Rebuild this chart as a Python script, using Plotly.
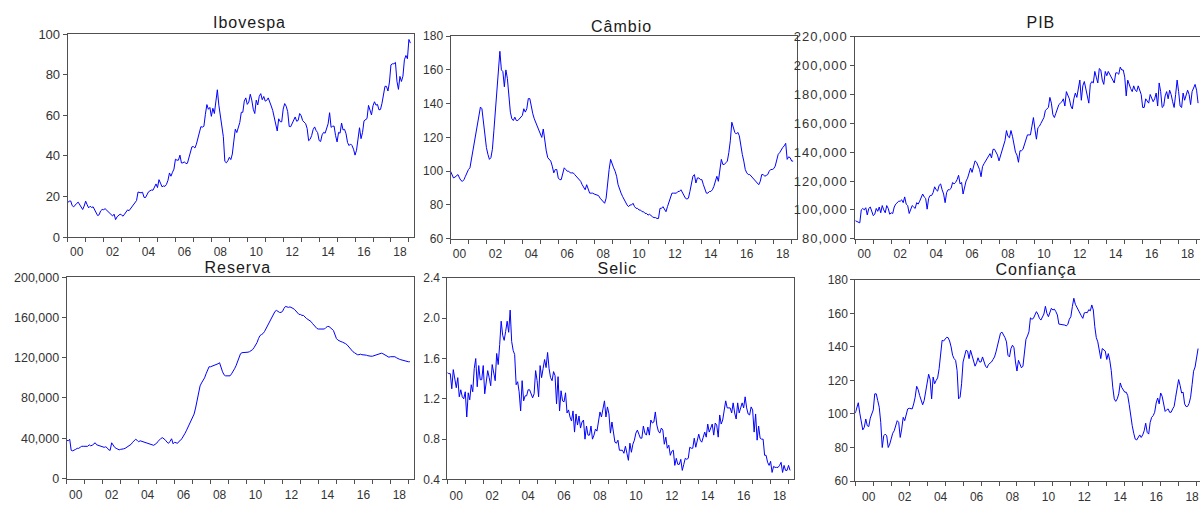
import plotly.graph_objects as go
import pandas as pd

# ---------------- data (monthly, 2000M01 - 2019M02) ----------------
months = pd.period_range("2000-01", "2019-02", freq="M")

ibovespa = [
    17.0, 17.7, 17.8, 15.5, 14.9, 16.0, 16.6, 17.2, 16.0, 14.8, 13.6, 15.3,
    17.7, 15.9, 14.4, 15.2, 14.6, 14.9, 13.5, 12.5, 10.6, 11.0, 12.9, 13.6,
    13.5, 14.0, 13.3, 13.0, 12.2, 11.1, 10.4, 11.3, 8.6, 10.0, 10.5, 11.3,
    10.9, 10.3, 11.3, 12.6, 13.4, 13.0, 14.0, 15.4, 16.0, 17.0, 18.0, 22.2,
    21.9, 21.8, 22.1, 19.6, 19.5, 21.1, 22.3, 22.8, 23.2, 23.1, 25.1, 26.2,
    24.4, 28.3, 26.6, 24.8, 25.2, 25.0, 26.0, 28.0, 31.6, 30.0, 31.9, 33.5,
    38.4, 37.9, 37.9, 40.4, 36.5, 36.6, 37.1, 36.2, 36.4, 39.3, 42.1, 44.5,
    44.6, 43.9, 45.8, 48.9, 52.3, 54.4, 54.2, 54.6, 60.5, 65.3, 63.0, 63.9,
    59.5, 63.5, 60.9, 67.9, 72.6, 65.0, 59.5, 55.7, 49.5, 37.3, 36.6, 37.6,
    39.3, 38.2, 40.9, 47.3, 53.2, 51.5, 54.8, 56.5, 61.5, 61.5, 67.0, 68.6,
    65.4, 66.5, 70.4, 67.5, 63.0, 60.9, 67.5, 65.1, 69.4, 70.7, 67.7, 69.3,
    67.0, 67.4, 68.6, 66.1, 64.6, 62.4, 58.8, 56.5, 52.3, 58.3, 56.9, 56.8,
    63.1, 65.8, 64.5, 61.8, 54.5, 54.4, 56.1, 57.1, 59.2, 57.1, 57.5, 60.9,
    59.8, 57.4, 56.4, 55.9, 53.5, 47.5, 48.2, 50.0, 53.0, 54.3, 52.5, 51.5,
    47.6, 47.1, 50.4, 51.6, 51.2, 53.2, 55.8, 61.3, 54.1, 54.6, 54.7, 50.0,
    46.9, 51.6, 51.2, 56.2, 52.8, 53.1, 50.9, 46.6, 45.1, 45.9, 45.1, 43.3,
    40.4, 42.8, 50.1, 53.9, 48.5, 51.5, 57.3, 57.9, 58.4, 64.9, 61.9, 60.2,
    64.7, 66.7, 65.0, 65.4, 62.7, 62.9, 65.9, 70.8, 74.3, 74.3, 72.0, 76.4,
    84.9, 85.4, 85.4, 86.1, 76.8, 72.8, 79.2, 76.7, 79.3, 87.4, 89.5, 87.9,
    97.4, 95.6,
]

cambio = [
    100, 98, 96, 96.5, 97.5, 98, 96, 94.5, 94, 95, 97, 99.5,
    101, 102, 107, 112, 118, 122, 126, 132, 138, 137, 128, 121,
    114, 110, 107, 108, 113, 124, 136, 146, 160, 171, 160, 159,
    150, 160, 155, 142, 135, 131, 130, 132, 130, 130, 131, 132,
    133, 137, 135, 137, 143, 143, 138, 134, 131, 129, 127, 125,
    122, 120, 125, 117, 112, 108, 107, 106, 103, 99, 101, 101,
    96, 95, 95, 98, 102, 101, 100, 100, 99, 99, 99, 98,
    97, 96, 95, 94, 92, 90, 89, 92, 90, 87, 87, 87,
    86.5, 86, 86, 85.5, 84, 83, 81.5, 81, 84, 95, 101, 107,
    104, 102, 100, 97, 92, 89, 87, 85, 83, 81, 80, 79,
    80, 80, 81, 79, 78, 78, 77, 77, 76, 76, 75, 75,
    74, 74.5, 73.5, 73, 72.5, 72.5, 72, 72, 78, 78, 79, 77,
    76, 79, 82, 85, 87, 87, 87, 87, 88, 88, 89, 87,
    85, 84, 83.5, 84, 88, 92, 97, 98, 93, 96, 96, 95,
    95, 92, 89, 87, 87, 88, 88, 89, 91, 94, 97, 94,
    100, 107, 104, 104, 105, 106, 111, 118, 129, 126, 123, 122,
    123, 121, 114, 110, 106, 101, 99, 98, 98, 97, 96, 95,
    94, 92.5, 92, 94, 98, 98, 97, 97.5, 98, 100, 101, 101,
    101.5, 103, 107, 110, 111, 113, 114, 115, 116.5, 107, 108.5, 108,
    106, 106,
]

pib_mil = [
    92.5, 92, 92, 91, 100, 101, 100, 101.5, 96.5, 101, 102, 99,
    96, 97, 101, 99, 102, 98, 103, 100, 98, 103, 101, 97,
    98, 97.5, 102, 104, 105, 106, 106, 107, 105, 109, 104, 103,
    97.5, 100, 103, 102, 101, 105, 104, 106, 108, 111, 109, 108,
    100.5, 108, 110, 110, 112, 116, 114, 113, 117, 118, 114, 111,
    105, 112, 114, 114, 115, 119, 118, 119, 121, 124, 118, 119,
    111, 117, 120, 122, 126, 129, 126, 131, 134, 133, 131, 128,
    123, 130, 132, 134, 136, 138, 139, 136, 142, 142, 140, 138,
    134, 138, 141, 144, 148, 155, 151, 150, 155, 151, 145, 140,
    138, 133, 141, 141, 142, 146, 149, 152, 152, 152, 158, 164,
    156, 149, 157, 158, 160, 162, 164, 169, 170, 171, 178, 174,
    166, 164, 167, 171, 173, 174, 175, 177, 172, 182, 180, 177,
    172, 170, 177, 181, 178, 184, 190, 176, 186, 189, 184, 180,
    174, 187, 189, 188, 196, 192, 188, 198, 197, 190, 187, 196,
    193, 196, 194, 192, 190, 188, 195, 195, 194, 199, 197, 197,
    192, 179, 190, 186, 184, 182, 186, 183, 182, 186, 183, 180,
    171, 171, 177, 175, 174, 180, 178, 175, 177, 181, 172, 188,
    182, 171, 172, 179, 182, 177, 183, 180, 175, 171, 180, 190,
    182, 172, 171, 181, 176, 180, 183, 180, 173, 182, 184, 187,
    183, 174,
]

reserva_mil = [
    38, 37.5, 39, 28, 27.5, 28, 29, 30, 30, 31, 32, 32,
    32, 32.5, 32, 33.5, 32.5, 33, 34, 35.5, 33.5, 33, 32, 31.5,
    31, 31, 31.5, 30.5, 28.5, 28, 35.5, 33, 31, 30, 29.5, 28.5,
    29, 29, 29.5, 30, 31, 32, 33, 34, 36, 37.5, 39, 38,
    36.5, 37.5, 37, 36, 35.5, 35, 34.5, 34, 33.5, 33, 33, 34,
    35, 37, 39, 40, 40.5, 39.5, 38, 36, 35, 37, 39.5, 34.5,
    36, 35.5, 35, 37, 38, 40, 42, 45, 48, 51, 54, 57,
    60, 64, 70, 78, 86, 92, 95, 97.5, 100, 104, 108, 111,
    111, 111.5, 112, 113, 113, 114, 115, 110, 106, 103, 102, 102,
    102, 102, 104, 106, 109, 112, 116, 120, 124, 125, 125, 125,
    125, 125.5, 126, 127, 128, 130, 132, 135, 139, 142, 143, 144,
    146, 149, 152, 155, 158, 161, 164, 166, 167, 166, 165, 165,
    166, 169, 171, 170.5, 170, 170.5, 170, 169, 168, 166, 164, 163,
    163, 162, 162, 160, 159, 158, 157, 156, 154, 152, 150, 149,
    148.5, 148.5, 148, 148, 148.5, 150, 151, 151, 150, 148.5, 147, 143,
    139, 137.5, 136.5, 136, 135.5, 135, 134, 133, 131, 129, 127, 126,
    125, 123.5, 123, 123, 123.5, 123, 123, 123, 122.5, 122, 121.5, 121.5,
    121.5, 122, 122.5, 123, 123.5, 124, 124.5, 124, 123, 122.5, 121, 120.5,
    121, 121, 121.5, 121, 120, 119, 118.5, 118, 117.5, 117, 116.5, 116,
    116, 116,
]

selic = [
    1.46, 1.45, 1.45, 1.30, 1.49, 1.39, 1.31, 1.41, 1.22, 1.29, 1.22, 1.20,
    1.27, 1.02, 1.26, 1.19, 1.34, 1.27, 1.50, 1.60, 1.32, 1.53, 1.39, 1.39,
    1.53, 1.25, 1.37, 1.48, 1.41, 1.33, 1.54, 1.44, 1.38, 1.65, 1.54, 1.74,
    1.97, 1.83, 1.78, 1.87, 1.97, 1.86, 2.08, 1.77, 1.68, 1.64, 1.34, 1.37,
    1.27, 1.08, 1.38, 1.18, 1.23, 1.23, 1.29, 1.29, 1.25, 1.21, 1.25, 1.48,
    1.38, 1.22, 1.53, 1.41, 1.50, 1.59, 1.51, 1.66, 1.50, 1.41, 1.38, 1.47,
    1.43, 1.15, 1.42, 1.08, 1.28, 1.18, 1.17, 1.26, 1.06, 1.09, 1.02, 0.98,
    1.08, 0.87, 1.05, 0.94, 1.03, 0.91, 0.97, 0.99, 0.80, 0.93, 0.84, 0.84,
    0.93, 0.80, 0.84, 0.90, 0.88, 0.96, 1.07, 1.02, 1.10, 1.18, 1.02, 1.12,
    1.05, 0.86, 0.97, 0.84, 0.77, 0.76, 0.79, 0.69, 0.69, 0.69, 0.66, 0.73,
    0.66, 0.59, 0.76, 0.67, 0.75, 0.79, 0.86, 0.89, 0.85, 0.81, 0.81, 0.93,
    0.86, 0.84, 0.92, 0.84, 0.99, 0.96, 0.97, 1.07, 0.94, 0.88, 0.86, 0.91,
    0.89, 0.75, 0.82, 0.71, 0.74, 0.64, 0.68, 0.69, 0.54, 0.61, 0.55, 0.55,
    0.60, 0.49, 0.55, 0.61, 0.60, 0.61, 0.72, 0.71, 0.71, 0.81, 0.72, 0.79,
    0.85, 0.79, 0.77, 0.82, 0.87, 0.82, 0.95, 0.87, 0.91, 0.95, 0.84, 0.96,
    0.94, 0.82, 1.04, 0.95, 0.99, 1.07, 1.18, 1.11, 1.11, 1.11, 1.06, 1.16,
    1.06, 1.00, 1.16, 1.06, 1.11, 1.16, 1.11, 1.22, 1.11, 1.05, 1.04, 1.12,
    1.09, 0.87, 1.05, 0.79, 0.93, 0.81, 0.80, 0.80, 0.64, 0.64, 0.57, 0.54,
    0.58, 0.47, 0.53, 0.52, 0.52, 0.52, 0.54, 0.57, 0.47, 0.54, 0.49, 0.49,
    0.54, 0.49,
]

confianca = [
    100.5, 104, 106.7, 100.5, 95, 90.5, 92, 97, 93, 92.5, 97.5, 99.6,
    102.4, 112, 112, 108, 104, 95, 80, 87, 88, 87, 80, 82,
    86, 88.5, 90, 94, 96, 95, 86, 91, 98, 96, 100, 103,
    103.4, 103, 103, 106, 110, 116.5, 114.5, 111, 107.5, 105.5, 108, 113,
    120, 123.7, 120.5, 109, 122, 118, 120, 121.5, 127, 136, 143.9, 143.5,
    144.5, 145.7, 145.5, 143.5, 140, 135, 133, 132, 126, 109, 110, 118,
    131, 134, 138, 137.5, 133, 138, 135, 131.5, 128.5, 130.5, 133.5, 131,
    131, 134, 131, 128.5, 127.5, 129.5, 130.3, 131, 132.5, 134, 137, 140.5,
    145.5, 148.2, 148.8, 147.5, 145.5, 143, 135, 134, 139, 141, 139.5, 131,
    125.6, 132, 130, 127.5, 128.5, 135, 144.5, 146.5, 149, 157.3, 156.5, 157,
    159.5, 161, 159.5, 157, 156, 158, 159.6, 164.2, 160, 158, 160, 163,
    162, 162.5, 161, 159, 153.6, 153.5, 153, 153, 153, 152.5, 153.5, 156.5,
    158, 164, 169, 165.4, 163.5, 161.8, 160.6, 158.5, 157, 160.3, 160.5, 160.4,
    162.2, 161.5, 165, 162, 152, 145.5, 143, 137, 133, 139, 138.5, 137.5,
    132.5, 136, 132, 125.8, 116, 109, 107.5, 109, 112, 118.5, 115.8, 114,
    113, 113, 111, 105.5, 98.5, 93, 88.5, 85, 84.5, 86.5, 87.5, 86,
    87.5, 90, 94.5, 89, 88, 95, 98, 99, 101, 106.5, 109.5, 106,
    112.5, 110.5, 106.5, 101.5, 102.5, 103, 101, 101, 103, 104.5, 110, 117,
    120.5, 117, 112.5, 113, 106, 104.4, 104.5, 106.3, 110, 117.5, 125.5, 128,
    133, 139,
]

reserva = [v * 1000 for v in reserva_mil]
pib = [v * 1000 for v in pib_mil]

x = [p.year + (p.month - 1) / 12 for p in months]

year_ticks = list(range(2000, 2020))
label_years = list(range(2000, 2019, 2))
label_text = [f"{y % 100:02d}" for y in label_years]

W, H = 1200, 514

# panel boxes in pixels: left, right, top, bottom, x-range end
panels = [
    dict(title="Ibovespa", y=ibovespa, yr=(0, 100), dt=20, fmt="{:.0f}", yfs=13, lshift=0.5, xtl=4,
         box=(67.7, 414.3, 28.0, 237.0), xend=2019.30, mirror=True, tx=249.7, ty=16.2),
    dict(title="Câmbio", y=cambio, yr=(60, 180), dt=20, fmt="{:.0f}", yfs=12, lshift=0.5, xtl=4,
         box=(450.5, 796.7, 30.0, 238.7), xend=2019.28, mirror=True, tx=621.7, ty=20.5),
    dict(title="PIB", y=pib, yr=(80000, 220000), dt=20000, fmt="{:,.0f}", yfs=13, lshift=0.5, xtl=4,
         box=(855.3, 1200.0, 30.7, 238.7), xend=2019.19, mirror=False, tx=1040.8, ty=16.0),
    dict(title="Reserva", y=reserva, yr=(0, 200000), dt=40000, fmt="{:,.0f}", yfs=12.5, lshift=0.5, xtl=5,
         box=(66.7, 414.3, 278.3, 485.7), xend=2019.33, mirror=True, tx=237.5, ty=268.3),
    dict(title="Selic", y=selic, yr=(0.4, 2.4), dt=0.4, fmt="{:.1f}", yfs=12, lshift=0.5, xtl=5,
         box=(447.3, 794.3, 279.0, 486.7), xend=2019.32, mirror=True, tx=617.0, ty=269.5),
    dict(title="Confiança", y=confianca, yr=(60, 180), dt=20, fmt="{:.0f}", yfs=12, lshift=0.75, xtl=5,
         box=(855.3, 1200.0, 281.0, 488.3), xend=2019.19, mirror=False, tx=1036.0, ty=270.5),
]

FONT = "Arial, Liberation Sans, sans-serif"
AXC = "#505050"
TXC = "#333333"

fig = go.Figure()
layout = dict(
    width=W, height=H, autosize=False,
    margin=dict(l=0, r=0, t=0, b=0),
    paper_bgcolor="white", plot_bgcolor="white",
    showlegend=False,
    font=dict(family=FONT, size=12, color=TXC),
)
annotations = []

for i, p in enumerate(panels, start=1):
    l, r, t, b = p["box"]
    xa = "xaxis" if i == 1 else f"xaxis{i}"
    ya = "yaxis" if i == 1 else f"yaxis{i}"
    xs = "x" if i == 1 else f"x{i}"
    ys = "y" if i == 1 else f"y{i}"
    fig.add_trace(go.Scatter(x=x, y=p["y"], mode="lines",
                             line=dict(color="#0000FF", width=1),
                             xaxis=xs, yaxis=ys, hoverinfo="skip"))
    lo, hi = p["yr"]
    n = int(round((hi - lo) / p["dt"]))
    yt = [lo + k * p["dt"] for k in range(n + 1)]
    layout[xa] = dict(
        domain=[l / W, r / W], range=[2000, p["xend"]], anchor=ys,
        showline=True, linecolor=AXC, linewidth=1, mirror=True,
        showgrid=False, zeroline=False,
        tickmode="array", tickvals=[yy + p["lshift"] for yy in label_years], ticktext=label_text,
        ticks="outside", ticklen=p["xtl"], tickcolor="rgba(0,0,0,0)",
        minor=dict(tickmode="array", tickvals=year_ticks, ticks="outside",
                   ticklen=4, tickcolor=AXC, tickwidth=1, showgrid=False),
        tickfont=dict(family=FONT, size=12, color=TXC),
        fixedrange=True,
    )
    layout[ya] = dict(
        domain=[1 - b / H, 1 - t / H], range=[lo, hi], anchor=xs,
        showline=True, linecolor=AXC, linewidth=1, mirror=p["mirror"],
        showgrid=False, zeroline=False,
        tickmode="array", tickvals=yt, ticktext=[p["fmt"].format(v) for v in yt],
        ticks="outside", ticklen=4, tickcolor=AXC,
        tickfont=dict(family=FONT, size=p["yfs"], color=TXC),
        fixedrange=True,
    )
    annotations.append(dict(
        text=p["title"], xref="paper", yref="paper",
        x=p["tx"] / W, y=1 - p["ty"] / H, xanchor="center", yanchor="middle",
        showarrow=False, borderpad=0,
        font=dict(family=FONT, size=16, color="#1a1a1a"),
    ))

layout["annotations"] = annotations
fig.update_layout(**layout)

post = (
    "document.documentElement.style.margin='0';"
    "document.documentElement.style.overflow='hidden';"
    "document.body.style.margin='0';"
    "document.body.style.padding='0';"
    "document.body.style.overflow='hidden';"
    "document.querySelectorAll('.annotation-text').forEach(function(e){"
    "e.style.letterSpacing='1px';});"
    "document.querySelectorAll('.y3tick text').forEach(function(e){"
    "e.style.letterSpacing='1px';});"
)
fig.write_html("out.html", post_script=post,
               config={"displayModeBar": False, "staticPlot": True})
